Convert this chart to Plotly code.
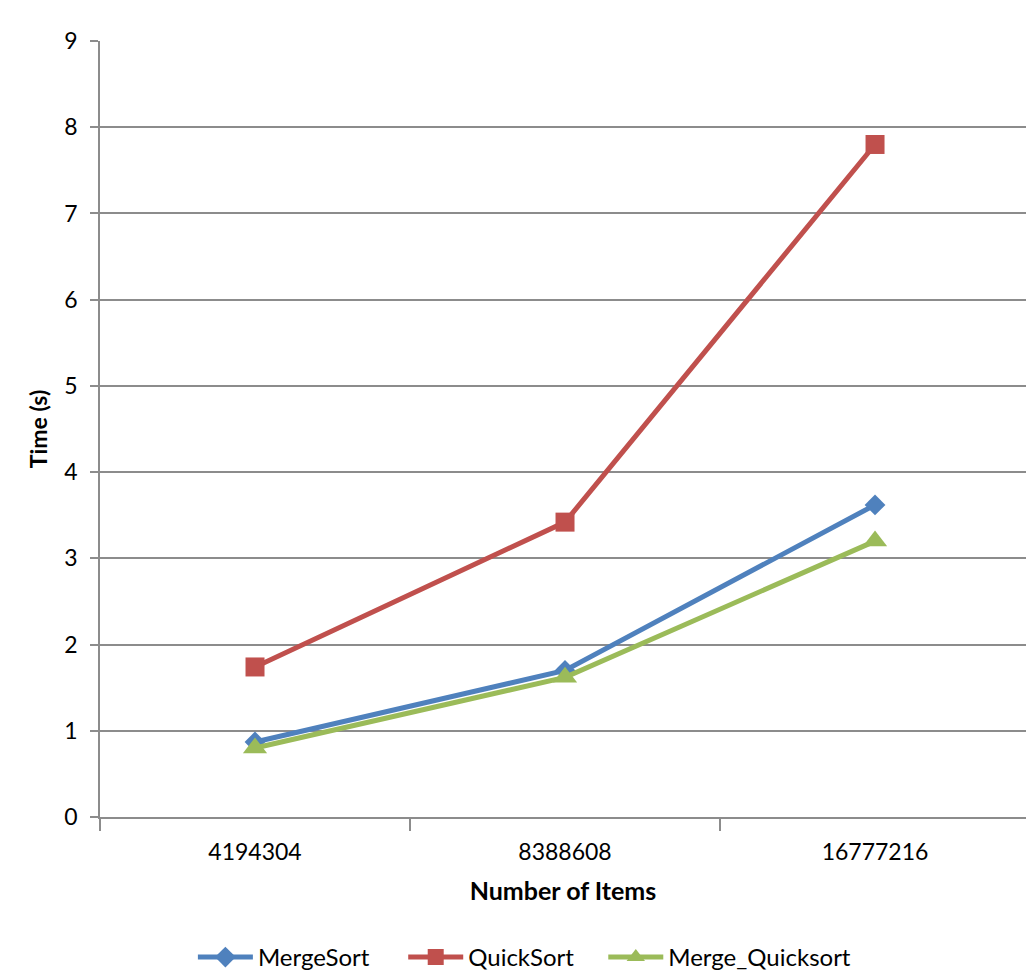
import plotly.graph_objects as go

# Sorting benchmark: run time versus input size
items = ["4194304", "8388608", "16777216"]
merge_sort = [0.87, 1.70, 3.62]
quick_sort = [1.74, 3.42, 7.80]
merge_quicksort = [0.80, 1.62, 3.20]

series = [
    ("MergeSort", merge_sort, "#4F81BD", "diamond", 16),
    ("QuickSort", quick_sort, "#C0504D", "square", 19),
    ("Merge_Quicksort", merge_quicksort, "#9BBB59", "triangle-up", 21),
]
# one legend box per series, laid out left to right under the axis title
legend_ids = ["legend", "legend2", "legend3"]
legend_x = [0.188, 0.393, 0.588]

FONT = "Lato, Carlito, Calibri, sans-serif"
GRID = "#8C8C8C"

fig = go.Figure()
for (name, vals, color, symbol, size), lid in zip(series, legend_ids):
    fig.add_trace(go.Scatter(
        x=items, y=vals, name=name, mode="lines+markers", legend=lid,
        line=dict(color=color, width=5),
        marker=dict(symbol=symbol, size=size, color=color),
    ))

legend_style = dict(
    orientation="h", xref="container", xanchor="left",
    yref="container", y=0.017, yanchor="middle",
    font=dict(size=24), itemwidth=55, bgcolor="rgba(0,0,0,0)",
)

fig.update_layout(
    width=1026, height=974,
    margin=dict(l=100, r=0, t=41, b=157, autoexpand=False),
    paper_bgcolor="white", plot_bgcolor="white",
    font=dict(family=FONT, size=23, color="#000000"),
    showlegend=True,
    xaxis=dict(
        type="category", range=[-0.5, 2.487],
        showgrid=False, showline=True, linecolor=GRID, linewidth=1.5,
        ticks="outside", tickson="boundaries", ticklen=12, tickcolor=GRID,
        tickwidth=1.5, tickfont=dict(size=23), ticklabelstandoff=14,
        title=dict(text="<b>Number of Items</b>", font=dict(size=25), standoff=18),
    ),
    yaxis=dict(
        range=[0, 9], dtick=1, showgrid=True, gridcolor=GRID, gridwidth=1.5,
        showline=True, linecolor=GRID, linewidth=1.5, zeroline=False,
        ticks="outside", ticklen=8, tickcolor=GRID, tickwidth=1.5,
        tickfont=dict(size=23), ticklabelstandoff=8,
        title=dict(text="<b>Time (s)</b>", font=dict(size=23), standoff=10),
    ),
)
for lid, lx in zip(legend_ids, legend_x):
    fig.update_layout({lid: dict(legend_style, x=lx)})

fig.write_html("out.html")
